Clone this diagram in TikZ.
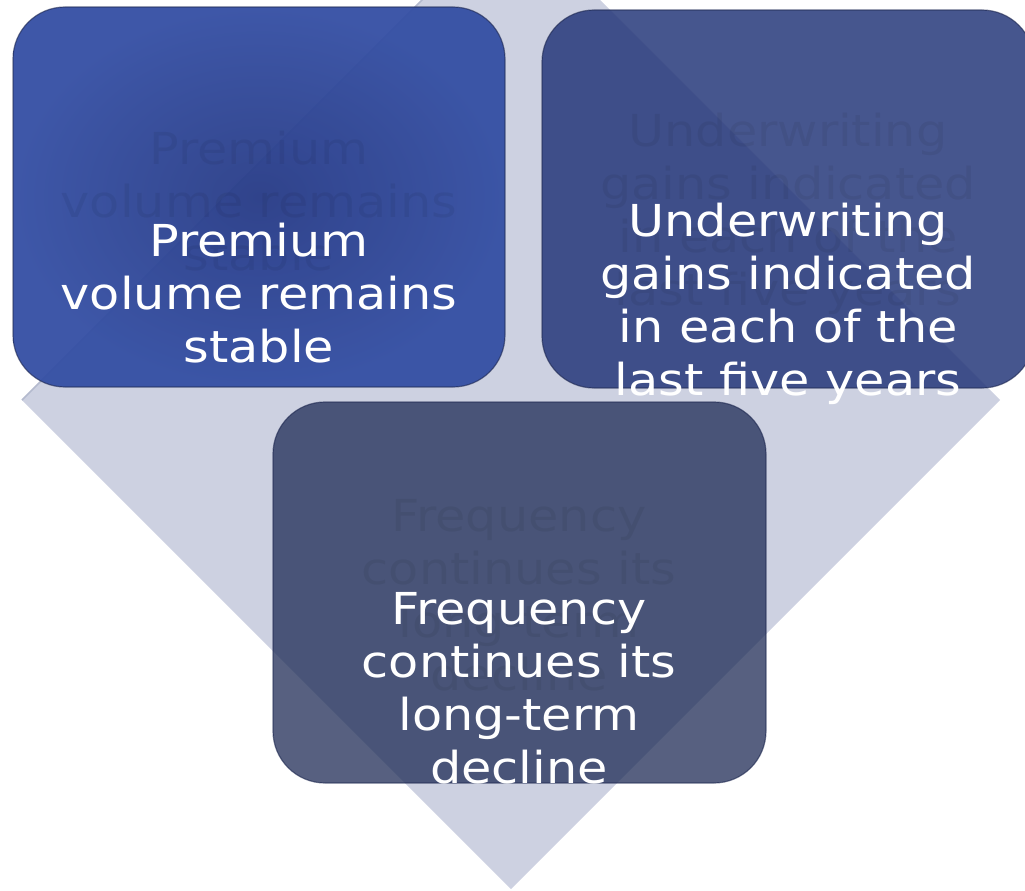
\documentclass[tikz,border=0pt]{standalone}
\usepackage{fontspec}
\setmainfont{DejaVu Sans}[FakeStretch=1.12]
\definecolor{diam}{RGB}{205,209,225}
\definecolor{diamedge}{RGB}{180,186,206}
\definecolor{bOneIn}{RGB}{42,62,136}
\definecolor{bOneOut}{RGB}{54,80,164}
\definecolor{bTwo}{RGB}{38,56,122}
\definecolor{bThree}{RGB}{28,41,84}
\definecolor{bEdge}{RGB}{30,40,80}
\tikzset{
  boxbase/.style={rectangle, rounded corners=52pt, draw=bEdge, line width=1.2pt,
    draw opacity=0.6, inner sep=0pt},
  boxone/.style={boxbase, minimum width=492pt, minimum height=380pt,
    inner color=bOneIn, outer color=bOneOut, fill opacity=0.96},
  boxtwo/.style={boxbase, minimum width=492pt, minimum height=378pt,
    fill=bTwo, fill opacity=0.85},
  boxthree/.style={boxbase, minimum width=493pt, minimum height=381pt,
    fill=bThree, fill opacity=0.74},
  txt/.style={text=white, align=center, inner sep=0pt, anchor=base,
    font=\fontsize{44}{53}\selectfont},
  ghost/.style={txt, text=black, text opacity=0.06},
}
\begin{document}
\begin{tikzpicture}[x=1pt,y=-1pt]
\useasboundingbox (0,0) rectangle (1025,891);
\begin{scope}
\clip (0,0) rectangle (1025,891);
% background diamond
\fill[diam] (511,-89) -- (1000,400) -- (511,889) -- (22,400) -- cycle;
\draw[diamedge, line width=1.5pt] (22,400) -- (511,-89);
% box 1
\node[boxone] (b1) at (259,197) {};
\node[ghost] (g1) at (259,270) {Premium\\volume remains\\stable};
\node[txt] (t1) at (259,362) {Premium\\volume remains\\stable};
% box 2
\node[boxtwo] (b2) at (788,199) {};
\node[ghost] (g2) at (788,305) {Underwriting\\gains indicated\\in each of the\\last five years};
\node[txt] (t2) at (788,395) {Underwriting\\gains indicated\\in each of the\\last five years};
% box 3
\node[boxthree] (b3) at (519.5,592.5) {};
\node[ghost] (g3) at (519,690) {Frequency\\continues its\\long-term\\decline};
\node[txt] (t3) at (519,783) {Frequency\\continues its\\long-term\\decline};
\end{scope}
\end{tikzpicture}
\end{document}
